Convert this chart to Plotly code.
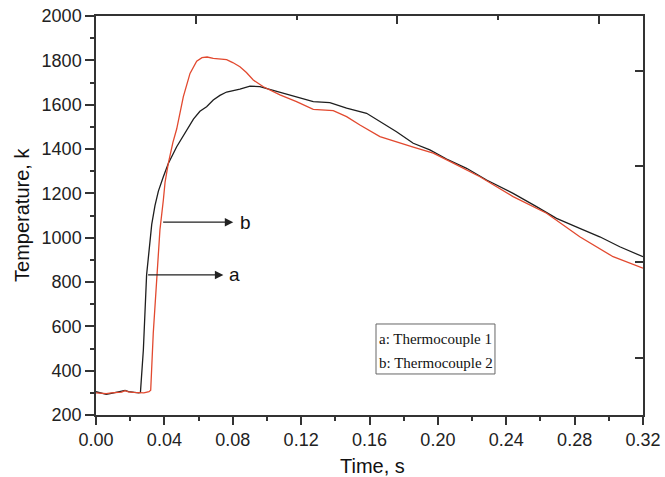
import plotly.graph_objects as go

# ---- data ----
t_tc1 = [0.000, 0.003, 0.006, 0.009, 0.012, 0.015, 0.017, 0.019, 0.022, 0.025, 0.026,
         0.0277, 0.0296, 0.0316, 0.0326, 0.0345, 0.0365, 0.0394, 0.0423, 0.0472, 0.0530,
         0.0570, 0.0608, 0.0647, 0.0686, 0.0725, 0.0764, 0.0842, 0.0901, 0.0959, 0.1000,
         0.1057, 0.1135, 0.1200, 0.1271, 0.1368, 0.1466, 0.1583, 0.1661, 0.1758, 0.1856,
         0.1953, 0.2051, 0.2168, 0.2285, 0.2440, 0.2577, 0.2694, 0.2830, 0.2947, 0.3064, 0.3200]
temp_tc1 = [305, 300, 293, 298, 302, 305, 311, 305, 302, 300, 302,
            493, 832, 1000, 1060, 1145, 1210, 1275, 1335, 1410, 1486,
            1535, 1570, 1591, 1621, 1642, 1657, 1670, 1684, 1681, 1672,
            1660, 1646, 1630, 1614, 1609, 1584, 1561, 1523, 1478, 1426,
            1396, 1355, 1313, 1260, 1200, 1140, 1087, 1042, 1004, 959, 914]

t_tc2 = [0.000, 0.003, 0.006, 0.009, 0.012, 0.015, 0.017, 0.019, 0.022, 0.025, 0.028,
         0.031, 0.0320, 0.0335, 0.0355, 0.0374, 0.0394, 0.0404, 0.0423, 0.0450, 0.0472,
         0.0511, 0.0550, 0.0589, 0.0620, 0.0650, 0.0686, 0.0764, 0.0800, 0.0842, 0.0880,
         0.0920, 0.0979, 0.1076, 0.1173, 0.1271, 0.1388, 0.1466, 0.1544, 0.1661, 0.1856,
         0.1973, 0.2090, 0.2246, 0.2440, 0.2636, 0.2830, 0.3025, 0.3200]
temp_tc2 = [300, 298, 296, 300, 303, 303, 310, 304, 302, 300, 300,
            305, 312, 569, 832, 1035, 1170, 1250, 1335, 1430, 1490,
            1636, 1741, 1796, 1812, 1815, 1809, 1803, 1790, 1771, 1745,
            1711, 1681, 1644, 1614, 1579, 1573, 1546, 1508, 1456, 1408,
            1381, 1336, 1275, 1185, 1110, 1004, 914, 862]

x_ticks = [0.00, 0.04, 0.08, 0.12, 0.16, 0.20, 0.24, 0.28, 0.32]
y_ticks = [200, 400, 600, 800, 1000, 1200, 1400, 1600, 1800, 2000]
top_major = [0.0583, 0.1763, 0.2943]
top_minor = [0.1173, 0.2353]
right_ticks = [457, 892, 1325, 1753]

legend_lines = ["a: Thermocouple 1", "b: Thermocouple 2"]

BLACK = "#1e1e1e"
RED = "#e2492f"
AX = "#333333"
SANS = "Liberation Sans, Arial, sans-serif"
SERIF = "Liberation Serif, Times New Roman, serif"

fig = go.Figure()
fig.add_trace(go.Scatter(x=t_tc1, y=temp_tc1, mode="lines",
                         line=dict(color=BLACK, width=1.3), showlegend=False))
fig.add_trace(go.Scatter(x=t_tc2, y=temp_tc2, mode="lines",
                         line=dict(color=RED, width=1.3), showlegend=False))
fig.add_trace(go.Scatter(x=[None], y=[None], xaxis="x2", yaxis="y2",
                         showlegend=False, hoverinfo="skip"))

axis_common = dict(showgrid=False, zeroline=False, showline=True, automargin=False,
                   linecolor=AX, linewidth=1.5, tickcolor=AX, tickwidth=1.5)

fig.update_layout(
    width=665, height=477,
    margin=dict(l=96, r=22, t=16, b=62),
    paper_bgcolor="white", plot_bgcolor="white",
    font=dict(family=SANS, color="#222"),
    xaxis=dict(range=[0, 0.32], tickvals=x_ticks, tickformat=".2f",
               ticks="outside", ticklen=8, ticklabeloverflow="allow",
               minor=dict(dtick=0.02, ticks="outside", ticklen=4,
                          tickcolor=AX, tickwidth=1.5),
               tickfont=dict(size=18, family=SANS, color="#222"),
               **axis_common),
    yaxis=dict(range=[200, 2000], tickvals=y_ticks,
               ticks="outside", ticklen=9, ticklabeloverflow="allow",
               minor=dict(dtick=100, ticks="outside", ticklen=4,
                          tickcolor=AX, tickwidth=1.5),
               tickfont=dict(size=18, family=SANS, color="#222"),
               **axis_common),
    xaxis2=dict(overlaying="x", side="top", anchor="y", range=[0, 0.32],
                tickvals=top_major, ticks="inside", ticklen=8,
                showticklabels=False,
                minor=dict(tickvals=top_minor, ticks="inside", ticklen=4,
                           tickcolor=AX, tickwidth=1.5),
                **axis_common),
    yaxis2=dict(overlaying="y", side="right", anchor="x", range=[200, 2000],
                tickvals=right_ticks, ticks="inside", ticklen=8,
                showticklabels=False, **axis_common),
)

# arrows a / b
arrows = [("b", 0.0384, 0.0803, 0.0872, 1070), ("a", 0.0296, 0.0745, 0.0813, 832)]
for lab, tail, head, tx, yv in arrows:
    fig.add_annotation(x=head, y=yv, ax=tail, ay=yv, xref="x", yref="y",
                       axref="x", ayref="y", text="", showarrow=True,
                       arrowhead=2, arrowsize=1.3, arrowwidth=1.3,
                       arrowcolor="#222", standoff=0, startstandoff=0)
    fig.add_annotation(x=tx, y=yv, xref="x", yref="y", text=lab, showarrow=False,
                       font=dict(size=19, family=SANS, color="#111"),
                       xanchor="center", yanchor="middle")

# legend box
fig.add_shape(type="rect", xref="paper", yref="paper",
              x0=0.5119, x1=0.7294, y0=0.1028, y1=0.2281,
              line=dict(color="#666", width=1))
for i, txt in enumerate(legend_lines):
    fig.add_annotation(x=0.5137, y=0.1905 - i * 0.0602, xref="paper", yref="paper",
                       text=txt, showarrow=False, xanchor="left", yanchor="middle",
                       font=dict(size=15, family=SERIF, color="#111"))

# axis titles
fig.add_annotation(x=-0.1353, y=0.5013, xref="paper", yref="paper",
                   text="Temperature, k", textangle=-90, showarrow=False,
                   xanchor="center", yanchor="middle",
                   font=dict(size=20, family=SANS, color="#111"))
fig.add_annotation(x=0.5046, y=-0.128, xref="paper", yref="paper",
                   text="Time, s", showarrow=False,
                   xanchor="center", yanchor="middle",
                   font=dict(size=20, family=SANS, color="#111"))

# remove the default page margin so the figure fills the window exactly
fig.write_html("out.html", config={"displayModeBar": False},
               post_script="document.body.style.margin='0';document.body.style.overflow='hidden';")
